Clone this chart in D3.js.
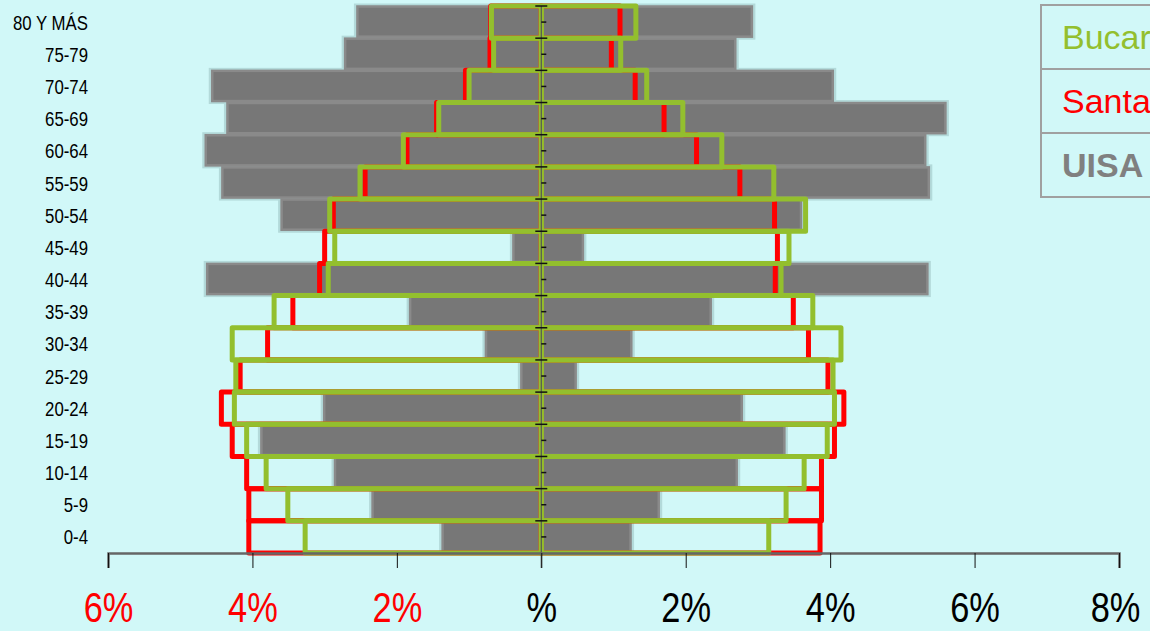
<!DOCTYPE html>
<html>
<head>
<meta charset="utf-8">
<script src="https://cdn.jsdelivr.net/npm/d3@7"></script>
<style>
  body { margin: 0; background: #d1f8f8; }
  svg { display: block; }
</style>
</head>
<body>
<div id="chart"></div>
<script>
// grupos de edad, de arriba hacia abajo
const ages = ["80 Y MÁS", "75-79", "70-74", "65-69", "60-64", "55-59", "50-54", "45-49", "40-44",
	"35-39", "30-34", "25-29", "20-24", "15-19", "10-14", "5-9", "0-4"];

// % por grupo: izquierda = hombres, derecha = mujeres
const uisaH = [2.56, 2.73, 4.57, 4.36, 4.66, 4.43, 3.61, 0.40, 4.64, 1.83, 0.78, 0.29, 3.02, 3.89, 2.87, 2.35, 1.38];
const uisaM = [2.93, 2.70, 4.05, 5.61, 5.33, 5.38, 3.61, 0.59, 5.36, 2.36, 1.26, 0.49, 2.79, 3.38, 2.72, 1.64, 1.25];
const santH = [0.70, 0.71, 1.05, 1.45, 1.86, 2.44, 2.88, 3.00, 3.07, 3.44, 3.79, 4.17, 4.43, 4.28, 4.08, 4.05, 4.05];
const santM = [1.09, 0.97, 1.30, 1.70, 2.15, 2.75, 3.23, 3.27, 3.24, 3.49, 3.70, 3.97, 4.19, 4.06, 3.88, 3.88, 3.86];
const bucaH = [0.69, 0.66, 1.00, 1.42, 1.91, 2.51, 2.93, 2.86, 2.95, 3.70, 4.28, 4.23, 4.25, 4.08, 3.81, 3.51, 3.27];
const bucaM = [1.31, 1.10, 1.46, 1.96, 2.50, 3.22, 3.66, 3.43, 3.32, 3.76, 4.15, 4.04, 4.06, 3.96, 3.64, 3.39, 3.15];

const xTicks = [-6, -4, -2, 0, 2, 4, 6, 8];
const legendNames = ["Bucaramanga", "Santander", "UISA"];

const width = 1150, height = 631;
// no hay Arial Narrow: se estrecha Liberation Sans
const sans = "'Liberation Sans', Arial, sans-serif";

const svg = d3.select("#chart")
	.append("svg")
	.attr("width", width)
	.attr("height", height);

svg.append("rect")
	.attr("width", width)
	.attr("height", height)
	.attr("fill", "#d1f8f8");

const x = d3.scaleLinear().domain([-6, 8]).range([108, 1119]);
const y = d3.scaleBand().domain(ages).range([6, 553]).padding(0);

function rows(left, right) {
	const out = [];
	ages.forEach(function(a, i) {
		out.push({ age: a, x0: -left[i], x1: 0 });
		out.push({ age: a, x0: 0, x1: right[i] });
	});
	return out;
}

// UISA barras grises
const uisa = rows(uisaH, uisaM);
svg.append("g").selectAll("rect")
	.data(uisa)
	.enter()
	.append("rect")
	.attr("x", d => x(d.x0) - 1)
	.attr("y", d => y(d.age) - 1)
	.attr("width", d => x(d.x1) - x(d.x0) + 2)
	.attr("height", y.bandwidth() + 1)
	.attr("fill", "none")
	.attr("stroke", "#b3dada")
	.attr("stroke-width", 3);

svg.append("g").selectAll("rect")
	.data(uisa)
	.enter()
	.append("rect")
	.attr("x", d => x(d.x0) + 1)
	.attr("y", d => y(d.age) + 0.5)
	.attr("width", d => x(d.x1) - x(d.x0) - 2)
	.attr("height", y.bandwidth() - 2)
	.attr("fill", "#777777")
	.attr("stroke", "#8a8a8a")
	.attr("stroke-width", 2.5);

// Santander y Bucaramanga como contornos
function outline(data, color) {
	svg.append("g").selectAll("rect")
		.data(data)
		.enter()
		.append("rect")
		.attr("x", d => x(d.x0))
		.attr("y", d => y(d.age))
		.attr("width", d => x(d.x1) - x(d.x0))
		.attr("height", y.bandwidth())
		.attr("fill", "none")
		.attr("stroke", color)
		.attr("stroke-width", 5)
		.attr("stroke-linejoin", "round");
}
outline(rows(santH, santM), "#ff0000");
outline(rows(bucaH, bucaM), "#93bf2e");

// eje central
const center = x(0);
svg.append("line")
	.attr("x1", center).attr("x2", center)
	.attr("y1", 6).attr("y2", 568)
	.attr("stroke", "#555")
	.attr("stroke-width", 1.2);

const yAxis = d3.axisRight(y).tickSize(5).tickFormat("");
svg.append("g")
	.attr("transform", "translate(" + center + ",0)")
	.call(yAxis)
	.call(g => g.select(".domain").remove())
	.call(g => g.selectAll("line").attr("stroke", "#111").attr("stroke-width", 1.5));

svg.append("g").selectAll("line")
	.data(ages)
	.enter()
	.append("line")
	.attr("x1", center - 6).attr("x2", center + 6)
	.attr("y1", d => y(d)).attr("y2", d => y(d))
	.attr("stroke", "#111")
	.attr("stroke-width", 1.5);

// etiquetas de edad
svg.append("g").selectAll("text")
	.data(ages)
	.enter()
	.append("text")
	.attr("transform", d => "translate(88," + (y(d) + y.bandwidth() / 2) + ") scale(0.8,1)")
	.attr("dy", "0.36em")
	.attr("text-anchor", "end")
	.attr("font-family", sans)
	.attr("font-size", 21)
	.attr("fill", "#000")
	.text(d => d);

// eje x
const xAxis = d3.axisBottom(x)
	.tickValues(xTicks)
	.tickSize(15)
	.tickFormat(d => d === 0 ? "%" : Math.abs(d) + "%");

const gx = svg.append("g")
	.attr("transform", "translate(0,553)")
	.call(xAxis);
gx.select(".domain").attr("stroke", "#666").attr("stroke-width", 2.5);
gx.selectAll(".tick line").attr("stroke", "#111").attr("stroke-width", 1);
gx.selectAll(".tick text")
	.attr("y", 0)
	.attr("dy", 0)
	.attr("transform", (d, i) => "translate(" + (i === xTicks.length - 1 ? -4 : 0) + ",69) scale(0.8,1)")
	.attr("font-family", sans)
	.attr("font-size", 43)
	.attr("fill", d => d < 0 ? "#ff0000" : "#000");

// leyenda
const lg = svg.append("g").attr("transform", "translate(1041,5)");
const legendColors = ["#93bf2e", "#ff0000", "#808080"];
lg.selectAll("rect")
	.data(legendNames)
	.enter()
	.append("rect")
	.attr("x", 0)
	.attr("y", (d, i) => i * 64)
	.attr("width", 260)
	.attr("height", 64)
	.attr("fill", "none")
	.attr("stroke", "#a0a0a0")
	.attr("stroke-width", 2);
lg.selectAll("text")
	.data(legendNames)
	.enter()
	.append("text")
	.attr("x", 21)
	.attr("y", (d, i) => i * 64 + 44)
	.attr("font-family", sans)
	.attr("font-size", 34)
	.attr("font-weight", (d, i) => i === 2 ? "bold" : "normal")
	.attr("fill", (d, i) => legendColors[i])
	.text(d => d);
</script>
</body>
</html>
